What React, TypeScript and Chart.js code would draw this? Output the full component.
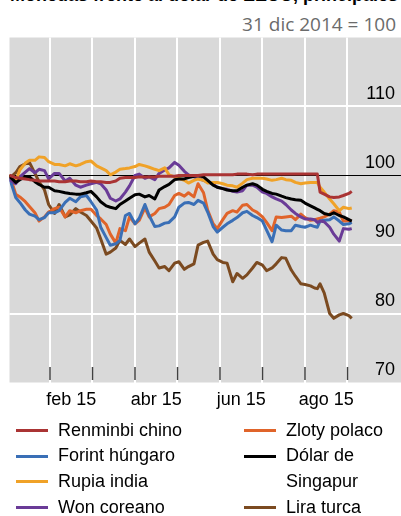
import React, { useEffect, useRef } from "react";
import { Chart, registerables } from "chart.js";

Chart.register(...registerables);

// ---- Data (31 dic 2014 = 100) ----
const dates = [
  "2014-12-31",
  "2015-01-03", "2015-01-07", "2015-01-10", "2015-01-14", "2015-01-17", "2015-01-21", "2015-01-24", "2015-01-28", "2015-01-31",
  "2015-02-04", "2015-02-07", "2015-02-11", "2015-02-14", "2015-02-18", "2015-02-21", "2015-02-25", "2015-02-28",
  "2015-03-04", "2015-03-07", "2015-03-11", "2015-03-14", "2015-03-18", "2015-03-21", "2015-03-25", "2015-03-28",
  "2015-04-01", "2015-04-04", "2015-04-08", "2015-04-11", "2015-04-15", "2015-04-18", "2015-04-22", "2015-04-25", "2015-04-29",
  "2015-05-02", "2015-05-06", "2015-05-09", "2015-05-13", "2015-05-16", "2015-05-20", "2015-05-23", "2015-05-27", "2015-05-30",
  "2015-06-03", "2015-06-06", "2015-06-10", "2015-06-13", "2015-06-17", "2015-06-20", "2015-06-24", "2015-06-27",
  "2015-07-01", "2015-07-04", "2015-07-08", "2015-07-11", "2015-07-15", "2015-07-18", "2015-07-22", "2015-07-25", "2015-07-29",
  "2015-08-01", "2015-08-05", "2015-08-08", "2015-08-10", "2015-08-12", "2015-08-15", "2015-08-19", "2015-08-22", "2015-08-26", "2015-08-29",
  "2015-09-02", "2015-09-04",
];

const renminbiChino = [
  100, 100, 99.7, 99.6, 99.5, 99.4, 99.3, 99.2, 99.2, 99.2,
  99.2, 99.1, 99.1, 99.2, 99.2, 99.1, 99.1, 99.2, 99.1, 99.1,
  99.0, 99.0, 99.2, 99.6, 99.7, 99.7, 99.7, 99.8, 99.8, 99.8,
  99.8, 99.9, 99.9, 99.9, 99.9, 100, 100, 100, 100, 100,
  100.1, 100.1, 100.1, 100.1, 100.1, 100.1, 100.1, 100.2, 100.2, 100.2,
  100.1, 100.2, 100.2, 100.2, 100.2, 100.2, 100.2, 100.2, 100.2, 100.2,
  100.2, 100.2, 100.2, 100.2, 100.2, 97.6, 97.3, 96.9, 96.8, 96.9,
  97.1, 97.4, 97.7,
];
const forintHungaro = [
  100, 99.3, 96.8, 96.1, 95.0, 94.4, 94.1, 93.6, 93.9, 94.6,
  94.6, 94.9, 96.1, 96.7, 96.2, 96.9, 97.1, 96.2, 95.0, 92.5,
  91.0, 89.9, 90.1, 90.6, 94.2, 94.5, 93.0, 93.8, 95.8, 94.2,
  92.6, 92.7, 93.1, 93.2, 94.0, 95.4, 96.0, 96.1, 95.8, 96.4,
  96.0, 94.7, 92.6, 91.8, 92.5, 93.0, 93.5, 93.9, 94.6, 94.8,
  94.2, 93.9, 93.4, 92.1, 90.4, 92.8, 92.1, 92.0, 92.0, 92.8,
  92.6, 92.5, 92.8, 92.6, 92.5, 93.4, 93.5, 93.6, 94.0, 93.4,
  92.9, 93.0, 93.2,
];
const rupiaIndia = [
  100, 99.9, 99.2, 100.8, 101.8, 102.2, 102.2, 102.7, 102.6, 102.0,
  101.6, 101.6, 101.4, 101.7, 101.4, 101.6, 102.0, 102.1, 101.4, 101.1,
  100.7, 100.1, 100.5, 100.9, 101.0, 101.1, 101.3, 101.6, 101.4, 101.2,
  100.9, 100.7, 101.1, 100.1, 99.8, 99.6, 99.3, 98.9, 99.3, 99.5,
  99.3, 98.9, 99.0, 99.0, 98.8, 98.6, 98.5, 98.3, 98.9, 99.4,
  99.6, 99.6, 99.6, 99.5, 99.3, 99.4, 99.6, 99.4, 99.3, 99.0,
  98.8, 98.9, 99.0, 99.0, 99.0, 98.3, 97.6, 96.6, 95.9, 94.9,
  95.4, 95.2, 95.3,
];
const wonCoreano = [
  100, 99.3, 98.8, 99.8, 100.5, 101.0, 100.4, 100.9, 100.7, 99.5,
  100.3, 100.3, 99.2, 99.6, 98.6, 98.3, 98.6, 98.8, 99.0, 98.8,
  97.9, 96.7, 96.3, 96.6, 97.6, 98.5, 100.0, 100.2, 99.6, 99.8,
  99.4, 100.3, 100.8, 101.1, 101.9, 101.5, 100.6, 100.1, 99.8, 99.6,
  99.3, 99.1, 98.7, 98.3, 98.1, 98.0, 97.7, 97.6, 97.8, 98.6,
  98.6, 98.3, 97.6, 97.4, 96.9, 96.6, 96.3, 95.8, 95.0, 94.5,
  94.0, 93.7, 93.7, 93.6, 93.2, 93.4, 93.3, 92.5, 91.5, 90.5,
  92.3, 92.2, 92.3,
];
const zlotyPolaco = [
  100, 99.8, 97.3, 96.9, 96.2, 95.5, 94.6, 93.4, 94.0, 94.7,
  95.2, 95.4, 94.0, 94.9, 94.6, 94.9, 95.1, 95.1, 94.2, 93.7,
  92.9, 91.5, 90.2, 92.3, 92.0, 94.0, 93.0, 93.5, 95.3, 94.0,
  94.5, 95.2, 95.4, 95.8, 97.1, 97.4, 97.0, 97.5, 96.9, 98.8,
  97.5, 95.0, 93.0, 92.3, 93.6, 94.5, 94.9, 94.7, 95.7, 95.8,
  95.0, 94.7, 94.0, 93.2, 92.0, 94.0, 93.9, 94.0, 94.1, 93.6,
  94.4, 93.9, 93.5, 93.6, 93.7, 93.8, 94.0, 94.4, 94.9, 94.7,
  93.4, 93.4, 93.5,
];
const dolarSingapur = [
  100, 99.8, 99.0, 99.4, 99.8, 99.8, 99.1, 98.7, 98.3, 98.3,
  97.8, 97.7, 97.5, 97.4, 97.3, 97.3, 97.5, 97.7, 96.9, 96.2,
  95.6, 95.4, 95.2, 95.8, 96.3, 96.7, 97.2, 97.3, 96.9, 97.1,
  96.6, 97.9, 98.4, 98.7, 99.4, 99.5, 99.5, 99.7, 99.9, 100.0,
  99.8, 99.3, 98.6, 98.3, 98.1, 97.9, 97.8, 97.8, 98.3, 98.6,
  98.8, 98.6, 98.0, 97.7, 97.4, 97.3, 97.0, 96.8, 96.6, 96.5,
  96.4, 96.0, 95.6, 95.3, 95.1, 94.9, 94.5, 94.3, 94.6, 94.2,
  94.0, 93.6, 93.4,
];
const liraTurca = [
  100, 99.7, 100.4, 101.3, 101.7, 101.9, 100.3, 99.1, 97.9, 95.8,
  94.5, 95.8, 94.0, 94.3, 95.2, 94.7, 94.2, 93.4, 92.4, 90.8,
  88.6, 88.9, 89.5, 90.6, 90.0, 90.8, 89.7, 90.2, 90.8, 88.9,
  87.6, 86.6, 86.8, 86.2, 87.3, 87.5, 86.4, 86.8, 87.2, 89.9,
  90.3, 90.5, 88.6, 87.8, 87.4, 87.3, 84.6, 85.8, 85.1, 85.6,
  86.6, 87.4, 87.0, 86.2, 86.6, 87.2, 88.1, 88.0, 86.3, 85.4,
  84.3, 84.2, 84.0, 83.7, 83.6, 84.3, 83.0, 80.0, 79.3, 79.8,
  80.0, 79.7, 79.3,
];

const seriesNames = ["Renminbi chino", "Forint húngaro", "Rupia india", "Won coreano", "Zloty polaco", "Dólar de Singapur", "Lira turca"];
const seriesValues = [renminbiChino, forintHungaro, rupiaIndia, wonCoreano, zlotyPolaco, dolarSingapur, liraTurca];
const seriesColors = ["#aa3434", "#3a6fb6", "#f0a228", "#6a3b97", "#e0642a", "#000000", "#7b4a20"];
const drawOrder = [0, 4, 2, 3, 5, 1, 6];

const xTickMonths = [1, 2, 3, 4, 5, 6, 7, 8];
const xTickLabels = ["feb 15", "", "abr 15", "", "jun 15", "", "ago 15", ""];
const yTicks = [70, 80, 90, 100, 110, 120];

const FONT = '"Liberation Sans", Arial, sans-serif';

function toMonth(d: string): number {
  const [y, m, day] = d.split("-").map(Number);
  const dim = new Date(y, m, 0).getDate();
  const base = (y - 2015) * 12 + (m - 1);
  return base + (day - 1) / dim;
}

const bgPlugin = {
  id: "bgPlugin",
  beforeDraw(chart: any) {
    const { ctx, chartArea } = chart;
    ctx.save();
    ctx.fillStyle = "#d9d9d9";
    ctx.fillRect(chartArea.left, chartArea.top, chart.width - chartArea.left, chartArea.bottom - chartArea.top);
    ctx.restore();
  },
};

const tickMarkPlugin = {
  id: "tickMarkPlugin",
  afterDraw(chart: any) {
    const { ctx, chartArea, scales } = chart;
    ctx.save();
    ctx.strokeStyle = "#404040";
    ctx.lineWidth = 1.5;
    xTickMonths.forEach((v) => {
      const x = scales.x.getPixelForValue(v);
      ctx.beginPath();
      ctx.moveTo(x, chartArea.bottom - 15.5);
      ctx.lineTo(x, chartArea.bottom - 2.5);
      ctx.stroke();
    });
    ctx.restore();
  },
};

function Legend() {
  const item = (i: number) => (
    <div key={i} style={{ display: "flex", alignItems: "flex-start", lineHeight: "25.7px" }}>
      <span style={{ display: "inline-block", width: 32, height: 3, background: seriesColors[i], marginTop: 11.4, marginRight: 10, flex: "none" }} />
      <span>{seriesNames[i]}</span>
    </div>
  );
  const textStyle: React.CSSProperties = { position: "absolute", fontFamily: FONT, fontSize: 18, color: "#000" };
  return (
    <>
      <div style={{ ...textStyle, left: 16, top: 417.6, width: 220 }}>{[0, 1, 2, 3].map(item)}</div>
      <div style={{ ...textStyle, left: 244, top: 417.6, width: 157 }}>{[4, 5, 6].map(item)}</div>
    </>
  );
}

export default function App() {
  const ref = useRef<HTMLCanvasElement>(null);

  useEffect(() => {
    const canvas = ref.current!;
    const xs = dates.map(toMonth);
    const datasets = seriesNames.map((name, i) => ({
      label: name,
      data: seriesValues[i].map((v, j) => ({ x: xs[j], y: v })),
      borderColor: seriesColors[i],
      backgroundColor: seriesColors[i],
      borderWidth: 3,
      pointRadius: 0,
      tension: 0,
      order: drawOrder[i],
      borderJoinStyle: "round" as const,
    }));

    const gridColor = (ctx: any) => {
      const v = ctx.tick && ctx.tick.value;
      if (v === 100) return "#000000";
      if (v === 70 || v === 120) return "rgba(0,0,0,0)";
      return "#ffffff";
    };
    const gridWidth = (ctx: any) => (ctx.tick && ctx.tick.value === 100 ? 1 : 2);

    const chart = new Chart(canvas, {
      type: "line",
      data: { datasets },
      options: {
        responsive: false,
        animation: false,
        devicePixelRatio: 1,
        layout: { padding: { left: 9.5, top: 37.5, right: 0, bottom: 0 } },
        plugins: { legend: { display: false }, tooltip: { enabled: false } },
        scales: {
          x: {
            type: "linear",
            min: 0.047,
            max: 9.118,
            afterBuildTicks: (s: any) => {
              s.ticks = xTickMonths.map((v) => ({ value: v }));
            },
            afterFit: (s: any) => {
              s.height = 37.5;
            },
            border: { display: false },
            grid: { color: "#ffffff", lineWidth: 2, drawTicks: false },
            ticks: {
              autoSkip: false,
              maxRotation: 0,
              padding: 7,
              labelOffset: 21.25,
              color: "#000",
              font: { family: FONT, size: 18 },
              callback: (v: any) => {
                const idx = xTickMonths.indexOf(Number(v));
                return idx >= 0 ? xTickLabels[idx] : "";
              },
            },
          },
          y: {
            position: "right",
            min: 70,
            max: 120,
            afterBuildTicks: (s: any) => {
              s.ticks = yTicks.map((v) => ({ value: v }));
            },
            afterFit: (s: any) => {
              s.width = 6;
            },
            border: { display: false },
            grid: { color: gridColor, lineWidth: gridWidth, tickColor: gridColor, drawTicks: true, tickLength: 6 },
            ticks: {
              mirror: true,
              padding: 0,
              labelOffset: -12.5,
              color: "#000",
              font: { family: FONT, size: 18 },
              callback: (v: any) => (Number(v) === 120 ? "" : String(v)),
            },
          },
        },
      } as any,
      plugins: [bgPlugin, tickMarkPlugin],
    });
    return () => chart.destroy();
  }, []);

  return (
    <div style={{ position: "fixed", left: 0, top: 0, width: 401, height: 516, background: "#fff", overflow: "hidden" }}>
      <div style={{ position: "absolute", left: 10, top: -14, fontFamily: FONT, fontWeight: "bold", fontSize: 18, lineHeight: "18px", whiteSpace: "nowrap", color: "#000" }}>
        Monedas frente al dólar de EEUU, principales
      </div>
      <div style={{ position: "absolute", right: 5, top: 14.7, fontFamily: '"Open Sans", sans-serif', fontSize: 19, lineHeight: "19px", color: "#6b6b6b", whiteSpace: "nowrap" }}>
        31 dic 2014 = 100
      </div>
      <canvas ref={ref} width={401} height={420} style={{ position: "absolute", left: 0, top: 0, width: 401, height: 420 }} />
      <Legend />
    </div>
  );
}
